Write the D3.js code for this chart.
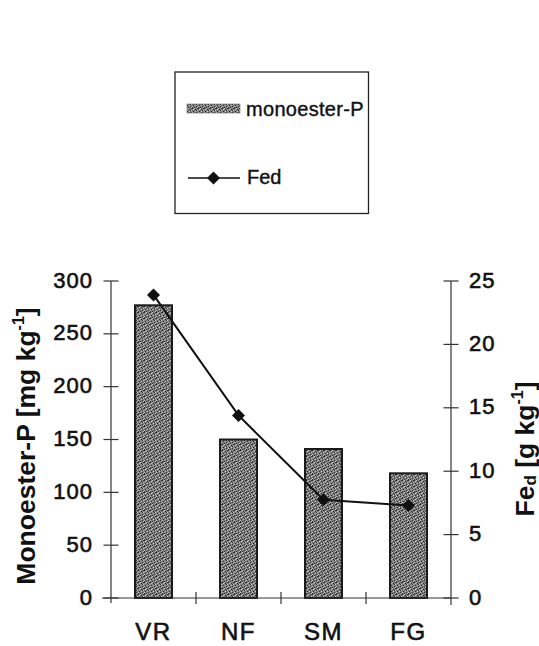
<!DOCTYPE html>
<html>
<head>
<meta charset="utf-8">
<script src="https://cdn.jsdelivr.net/npm/d3@7"></script>
<style>
  html, body { margin: 0; padding: 0; background: #fff; }
  svg { display: block; }
  text { font-family: "Liberation Sans", Arial, Helvetica, sans-serif; fill: #111; }
  .heavy { stroke: #111; stroke-width: 0.6px; }
</style>
</head>
<body>
<svg id="chart" width="539" height="646"></svg>
<script>
// Sites, monoester-P content (mg/kg) and dithionite-extractable Fe (g/kg)
const sites = ["VR", "NF", "SM", "FG"];
const monoesterP = [277, 150, 141, 118];
const fed = [23.9, 14.4, 7.75, 7.3];
const leftTicks = [0, 50, 100, 150, 200, 250, 300];
const rightTicks = [0, 5, 10, 15, 20, 25];

const svg = d3.select("#chart");

const plot = { left: 111, right: 451, top: 281, bottom: 598 };

const x = d3.scaleBand()
  .domain(sites)
  .range([plot.left, plot.right])
  .paddingInner(0.565)
  .paddingOuter(0.2825);

const yL = d3.scaleLinear().domain([0, 300]).range([plot.bottom, plot.top]);
const yR = d3.scaleLinear().domain([0, 25]).range([plot.bottom, plot.top]);

// stippled grey fill for the bars
const defs = svg.append("defs");
const pat = defs.append("pattern")
  .attr("id", "stipple")
  .attr("patternUnits", "userSpaceOnUse")
  .attr("width", 6).attr("height", 6);
pat.append("rect").attr("width", 6).attr("height", 6).attr("fill", "#7c7c7c");
const darkDots = [[0,0],[3,1],[1,3],[4,4],[2,5],[5,0],[4,2],[0,5]];
const lightDots = [[2,0],[5,2],[0,4],[3,3],[5,5],[1,1]];
darkDots.forEach(([a,b]) => pat.append("rect").attr("x", a).attr("y", b).attr("width", 1).attr("height", 1).attr("fill", "#333"));
lightDots.forEach(([a,b]) => pat.append("rect").attr("x", a).attr("y", b).attr("width", 1).attr("height", 1).attr("fill", "#c4c4c4"));

// bars
svg.append("g").selectAll("rect")
  .data(sites)
  .join("rect")
  .attr("x", d => x(d))
  .attr("y", (d, i) => yL(monoesterP[i]))
  .attr("width", x.bandwidth())
  .attr("height", (d, i) => yL(0) - yL(monoesterP[i]))
  .attr("fill", "url(#stipple)")
  .attr("stroke", "#1a1a1a")
  .attr("stroke-width", 2);

// axes
const axisColor = "#333";
const ax = svg.append("g").attr("stroke", axisColor).attr("stroke-width", 1.2).attr("fill", "none");

// baseline
ax.append("line").attr("x1", plot.left - 9).attr("x2", plot.right).attr("y1", plot.bottom).attr("y2", plot.bottom);
// left axis line and ticks
ax.append("line").attr("x1", plot.left).attr("x2", plot.left).attr("y1", plot.top).attr("y2", plot.bottom + 5);
ax.selectAll(".lt").data(leftTicks).join("line")
  .attr("x1", plot.left - 7.5).attr("x2", plot.left + 7.5)
  .attr("y1", d => yL(d)).attr("y2", d => yL(d));
// right axis line and ticks
ax.append("line").attr("x1", plot.right).attr("x2", plot.right).attr("y1", plot.top).attr("y2", plot.bottom + 7);
ax.selectAll(".rt").data(rightTicks).join("line")
  .attr("x1", plot.right - 7.5).attr("x2", plot.right + 7.5)
  .attr("y1", d => yR(d)).attr("y2", d => yR(d));
// category separators
const seps = d3.range(1, sites.length).map(i => plot.left + i * x.step());
ax.selectAll(".ct").data(seps).join("line")
  .attr("x1", d => d).attr("x2", d => d)
  .attr("y1", plot.bottom - 6).attr("y2", plot.bottom + 6);

// tick labels
svg.append("g").selectAll("text").data(leftTicks).join("text")
  .attr("class", "heavy")
  .attr("x", 93).attr("y", d => yL(d) - 1)
  .attr("text-anchor", "end").attr("dominant-baseline", "central")
  .attr("font-size", 22).attr("letter-spacing", 1)
  .text(d => d);
svg.append("g").selectAll("text").data(rightTicks).join("text")
  .attr("class", "heavy")
  .attr("x", 469).attr("y", d => yR(d) - 1)
  .attr("text-anchor", "start").attr("dominant-baseline", "central")
  .attr("font-size", 22).attr("letter-spacing", 1)
  .text(d => d);
svg.append("g").selectAll("text").data(sites).join("text")
  .attr("class", "heavy")
  .attr("x", d => x(d) + x.bandwidth() / 2).attr("y", 640)
  .attr("text-anchor", "middle")
  .attr("font-size", 24).attr("letter-spacing", 1.5)
  .text(d => d);

// axis titles
const tL = svg.append("text")
  .attr("transform", "translate(35,446) rotate(-90)")
  .attr("text-anchor", "middle")
  .attr("font-size", 26.5).attr("font-weight", "bold");
tL.append("tspan").text("Monoester-P [mg kg");
tL.append("tspan").attr("font-size", 16).attr("dy", -11).text("-1");
tL.append("tspan").attr("dy", 11).text("]");

const tR = svg.append("text")
  .attr("transform", "translate(534,449) rotate(-90)")
  .attr("text-anchor", "middle")
  .attr("font-size", 26.5).attr("font-weight", "bold");
tR.append("tspan").text("Fe");
tR.append("tspan").attr("font-size", 17).attr("dy", 2).text("d");
tR.append("tspan").attr("dy", -2).text(" [g kg");
tR.append("tspan").attr("font-size", 16).attr("dy", -11).text("-1");
tR.append("tspan").attr("dy", 11).text("]");

// Fe_d line with diamond markers
const cx = d => x(d) + x.bandwidth() / 2;
const line = d3.line().x((d, i) => cx(sites[i])).y(d => yR(d));
svg.append("path").datum(fed)
  .attr("d", line)
  .attr("fill", "none").attr("stroke", "#111").attr("stroke-width", 2);

const diamond = d3.symbol().type(d3.symbolSquare).size(85);
svg.append("g").selectAll("path").data(fed).join("path")
  .attr("transform", (d, i) => `translate(${cx(sites[i])},${yR(d)}) rotate(45)`)
  .attr("d", diamond)
  .attr("fill", "#111");

// legend
const lg = svg.append("g");
lg.append("rect").attr("x", 175).attr("y", 72).attr("width", 193.5).attr("height", 141.5)
  .attr("fill", "#fff").attr("stroke", "#222").attr("stroke-width", 1.3);
lg.append("rect").attr("x", 187).attr("y", 104).attr("width", 53).attr("height", 9)
  .attr("fill", "url(#stipple)").attr("stroke", "#555").attr("stroke-width", 0.5);
lg.append("text").attr("class", "heavy").attr("x", 246).attr("y", 116).attr("font-size", 20).attr("letter-spacing", 0.3).style("stroke-width", "0.4px").text("monoester-P");
lg.append("line").attr("x1", 188).attr("x2", 240).attr("y1", 178).attr("y2", 178)
  .attr("stroke", "#111").attr("stroke-width", 1.5);
lg.append("path").attr("transform", "translate(213.5,178) rotate(45)").attr("d", diamond).attr("fill", "#111");
lg.append("text").attr("class", "heavy").attr("x", 247).attr("y", 184).attr("font-size", 20).style("stroke-width", "0.4px").text("Fed");
</script>
</body>
</html>
